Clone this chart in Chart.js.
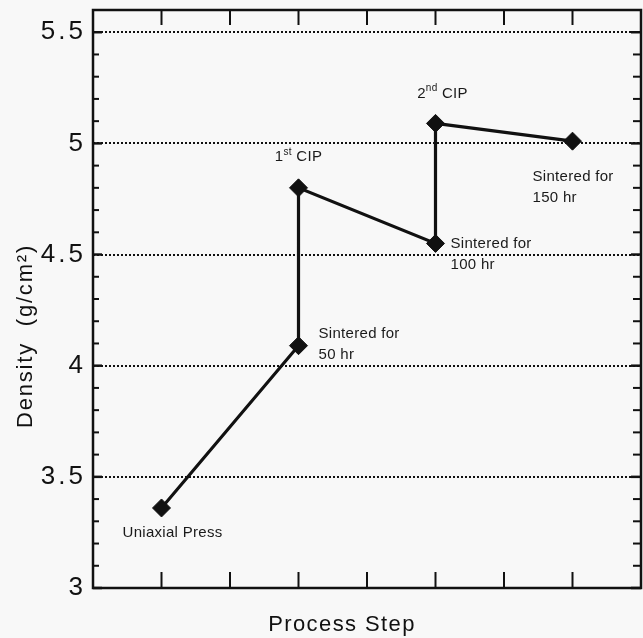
<!DOCTYPE html>
<html>
<head>
<meta charset="utf-8">
<script src="https://cdn.jsdelivr.net/npm/chart.js@4.4.1/dist/chart.umd.min.js"></script>
<style>
  html, body { margin: 0; padding: 0; background: #f8f8f8; }
  #wrap { width: 643px; height: 638px; position: relative; }
</style>
</head>
<body>
<div id="wrap"><canvas id="c"></canvas></div>
<script>
// ---- data ----
const stepPositions = [1, 3, 3, 5, 5, 7];
const densities = [3.36, 4.09, 4.80, 4.55, 5.09, 5.01];
const pointLabels = [
  [[{ t: 'Uniaxial Press' }]],
  [[{ t: 'Sintered for' }], [{ t: '50 hr' }]],
  [[{ t: '1' }, { t: 'st', sup: true }, { t: ' CIP' }]],
  [[{ t: 'Sintered for' }], [{ t: '100 hr' }]],
  [[{ t: '2' }, { t: 'nd', sup: true }, { t: ' CIP' }]],
  [[{ t: 'Sintered for' }], [{ t: '150 hr' }]]
];
const yTickValues = [3, 3.5, 4, 4.5, 5, 5.5];
const xTickValues = [1, 2, 3, 4, 5, 6, 7];
const yMinorTickValues = [3.0,3.1,3.2,3.3,3.4,3.5,3.6,3.7,3.8,3.9,4.0,4.1,4.2,4.3,4.4,4.5,4.6,4.7,4.8,4.9,5.0,5.1,5.2,5.3,5.4,5.5,5.6];
const xTitle = 'Process Step';
const yTitle = 'Density  (g/cm²)';

// ---- label placement (pixel offsets from each point) ----
const labelLayout = [
  { dx: -39, dy: 25, align: 'left' },
  { dx: 20, dy: -12, align: 'left' },
  { dx: 0, dy: -31, align: 'center' },
  { dx: 15, dy: 0, align: 'left' },
  { dx: 7, dy: -30, align: 'center' },
  { dx: -40, dy: 36, align: 'left' }
];
const INK = '#111';
const FONT = '"Liberation Sans", Arial, Helvetica, sans-serif';

function drawRich(ctx, parts, x, y, align) {
  let w = 0;
  const widths = parts.map(p => {
    ctx.font = (p.sup ? '10px ' : '15px ') + FONT;
    const m = ctx.measureText(p.t).width;
    w += m;
    return m;
  });
  let cx = align === 'center' ? x - w / 2 : x;
  parts.forEach((p, i) => {
    ctx.font = (p.sup ? '10px ' : '15px ') + FONT;
    ctx.fillText(p.t, cx, p.sup ? y - 5 : y);
    cx += widths[i];
  });
}

const framePlugin = {
  id: 'frame',
  beforeDraw(chart) {
    const { x, y } = chart.scales;
    if (!y._wrapped) {
      const dl = y.drawLabels;
      y.drawLabels = function (a) {
        const c = this.ctx; c.save(); c.letterSpacing = '3px'; dl.call(this, a); c.restore();
      };
      const dty = y.drawTitle;
      y.drawTitle = function () {
        const c = this.ctx; c.save(); c.letterSpacing = '1.8px'; c.translate(0, 37); dty.call(this); c.restore();
      };
      const dtx = x.drawTitle;
      x.drawTitle = function () {
        const c = this.ctx; c.save(); c.letterSpacing = '1.4px'; c.translate(-25, 0); dtx.call(this); c.restore();
      };
      y._wrapped = true;
    }
  },
  beforeDatasetsDraw(chart) {
    const { ctx, chartArea: { left, right, top, bottom }, scales: { x, y } } = chart;
    ctx.save();
    ctx.strokeStyle = INK;
    ctx.lineCap = 'butt';
    ctx.lineWidth = 2.5;
    ctx.strokeRect(left, top, right - left, bottom - top);
    const seg = (x1, y1, x2, y2) => { ctx.beginPath(); ctx.moveTo(x1, y1); ctx.lineTo(x2, y2); ctx.stroke(); };
    ctx.lineWidth = 2;
    xTickValues.forEach(v => {
      const px = x.getPixelForValue(v);
      seg(px, bottom, px, bottom - 16);
      seg(px, top, px, top + 15);
    });
    yMinorTickValues.forEach(v => {
      const py = y.getPixelForValue(v);
      const major = yTickValues.some(t => Math.abs(t - v) < 1e-6);
      ctx.lineWidth = major ? 2.5 : 2;
      seg(left, py, left + (major ? 9 : 6), py);
      seg(right, py, right - (major ? 10 : 8), py);
    });
    ctx.restore();
  },
  afterDatasetsDraw(chart) {
    const { ctx, scales: { x, y } } = chart;
    ctx.save();
    ctx.fillStyle = '#1a1a1a';
    ctx.textBaseline = 'middle';
    ctx.textAlign = 'left';
    ctx.letterSpacing = '0.3px';
    pointLabels.forEach((lines, i) => {
      const px = x.getPixelForValue(stepPositions[i]);
      const py = y.getPixelForValue(densities[i]);
      const L = labelLayout[i];
      lines.forEach((parts, j) => {
        drawRich(ctx, parts, px + L.dx, py + L.dy + j * 21, L.align);
      });
    });
    ctx.restore();
  }
};

new Chart(document.getElementById('c'), {
  type: 'scatter',
  data: {
    datasets: [{
      data: stepPositions.map((s, i) => ({ x: s, y: densities[i] })),
      showLine: true,
      borderColor: INK,
      borderWidth: 3.2,
      pointStyle: 'rectRot',
      pointRadius: 9,
      pointHoverRadius: 9,
      pointBackgroundColor: INK,
      pointBorderColor: INK,
      pointBorderWidth: 1,
      tension: 0,
      clip: false
    }]
  },
  options: {
    responsive: true,
    maintainAspectRatio: false,
    animation: false,
    events: [],
    layout: { autoPadding: false, padding: { top: 10, right: 2, left: 0, bottom: 0 } },
    plugins: { legend: { display: false }, tooltip: { enabled: false } },
    scales: {
      x: {
        type: 'linear',
        min: 0,
        max: 8,
        afterFit: s => { s.height = 50; s.paddingLeft = 0; s.paddingRight = 0; },
        ticks: { display: false },
        grid: { display: false },
        border: { display: false },
        title: {
          display: true,
          text: xTitle,
          color: INK,
          font: { family: FONT, size: 22 },
          padding: { top: 0, bottom: 0 }
        }
      },
      y: {
        type: 'linear',
        min: 3,
        max: 5.6,
        afterBuildTicks: s => { s.ticks = yTickValues.map(v => ({ value: v })); },
        afterFit: s => { s.width = 93; s.paddingTop = 0; s.paddingBottom = 0; },
        ticks: {
          color: INK,
          padding: 7,
          font: { family: FONT, size: 26 },
          callback: v => String(v)
        },
        grid: {
          color: INK,
          lineWidth: c => (c.tick && c.tick.value === 3 ? 0 : 2),
          drawTicks: false
        },
        border: { display: false, dash: [2, 2] },
        title: {
          display: true,
          text: yTitle,
          color: INK,
          font: { family: FONT, size: 22 },
          padding: { top: 13, bottom: 0 }
        }
      }
    }
  },
  plugins: [framePlugin]
});
</script>
</body>
</html>
